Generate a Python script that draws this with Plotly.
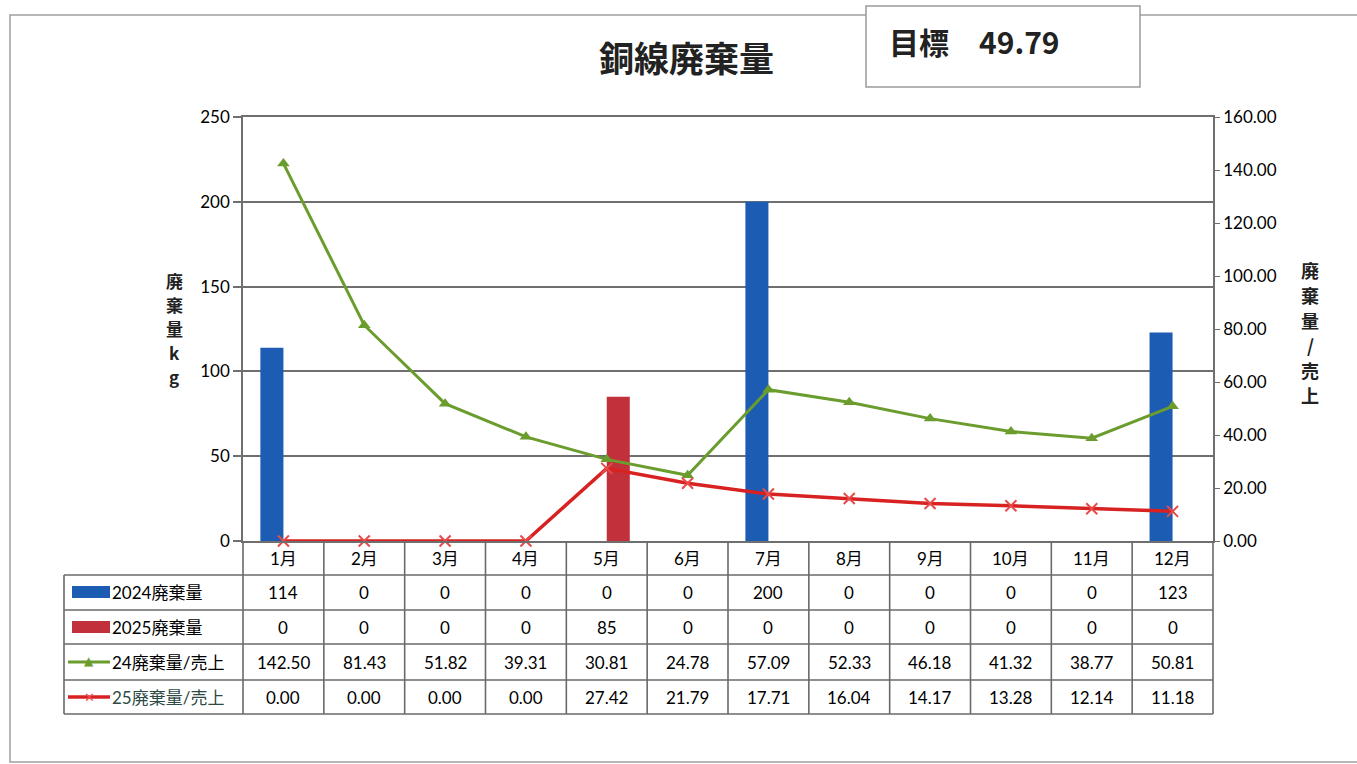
import plotly.graph_objects as go

months = ["1月", "2月", "3月", "4月", "5月", "6月", "7月", "8月", "9月", "10月", "11月", "12月"]
waste_2024 = [114, 0, 0, 0, 0, 0, 200, 0, 0, 0, 0, 123]
waste_2025 = [0, 0, 0, 0, 85, 0, 0, 0, 0, 0, 0, 0]
ratio_24 = [142.50, 81.43, 51.82, 39.31, 30.81, 24.78, 57.09, 52.33, 46.18, 41.32, 38.77, 50.81]
ratio_25 = [0.00, 0.00, 0.00, 0.00, 27.42, 21.79, 17.71, 16.04, 14.17, 13.28, 12.14, 11.18]
row_labels = ["2024廃棄量", "2025廃棄量", "24廃棄量/売上", "25廃棄量/売上"]
title_text = "銅線廃棄量"
target_text = "目標　49.79"
left_title_chars = ["廃", "棄", "量", "k", "g"]
right_title_chars = ["廃", "棄", "量", "/", "売", "上"]

W, H = 1357, 764
L, R, T, B = 243, 1213, 117, 541

def X(px):
    return (px - L) / (R - L)

def Y(py):
    return (B - py) / (B - T)

BLUE = "#1c5db3"
RED_BAR = "#c2313b"
GREEN = "#6b9c2e"
RED = "#d82222"
GRID = "#6f6f6f"
TABLE = "#6a6a6a"
FONT = "Lato, Noto Sans CJK JP, sans-serif"
CJK = "Noto Sans CJK JP, sans-serif"

x = list(range(len(months)))

fig = go.Figure()
fig.add_trace(go.Bar(x=x, y=waste_2024, marker=dict(color=BLUE, line=dict(width=0)), name=row_labels[0]))
fig.add_trace(go.Bar(x=x, y=waste_2025, marker=dict(color=RED_BAR, line=dict(width=0)), name=row_labels[1]))
fig.add_trace(go.Scatter(x=x, y=ratio_24, yaxis="y2", mode="lines+markers", cliponaxis=False,
                         line=dict(color=GREEN, width=3),
                         marker=dict(symbol="triangle-up", size=11, color=GREEN),
                         name=row_labels[2]))
fig.add_trace(go.Scatter(x=x, y=ratio_25, yaxis="y2", mode="lines+markers", cliponaxis=False,
                         line=dict(color=RED, width=3.5),
                         marker=dict(symbol="x-thin", size=11, color="#e84a4a",
                                     line=dict(color="#e84a4a", width=2)),
                         name=row_labels[3]))

shapes = []
annotations = []

def ann(xv, yv, text, size, color="#111", family=FONT, xref="paper", xanchor="center"):
    annotations.append(dict(x=xv, y=yv, xref=xref, yref="paper", text=text, showarrow=False,
                            xanchor=xanchor, yanchor="middle",
                            font=dict(family=family, size=size, color=color)))

# outer frame
shapes.append(dict(type="rect", xref="paper", yref="paper", x0=X(10), x1=X(1365), y0=Y(762), y1=Y(15),
                   line=dict(color="#a0a0a0", width=1.5), fillcolor="rgba(0,0,0,0)", layer="below"))
# target box
shapes.append(dict(type="rect", xref="paper", yref="paper", x0=X(866), x1=X(1140), y0=Y(87), y1=Y(6),
                   line=dict(color="#9a9a9a", width=1.5), fillcolor="white"))

# table grid
row_lines = [575, 610, 644, 680, 714]
for py in row_lines:
    shapes.append(dict(type="line", xref="paper", yref="paper", x0=X(64), x1=1, y0=Y(py), y1=Y(py),
                       line=dict(color=TABLE, width=1.6)))
shapes.append(dict(type="line", xref="paper", yref="paper", x0=X(64), x1=X(64), y0=Y(714), y1=Y(575),
                   line=dict(color=TABLE, width=1.6)))
shapes.append(dict(type="line", xref="paper", yref="paper", x0=0, x1=0, y0=Y(714), y1=0,
                   line=dict(color=TABLE, width=1.6)))
shapes.append(dict(type="line", xref="paper", yref="paper", x0=1, x1=1, y0=Y(714), y1=0,
                   line=dict(color=TABLE, width=1.6)))
for i in range(1, len(months)):
    shapes.append(dict(type="line", xref="x", yref="paper", x0=i - 0.5, x1=i - 0.5, y0=Y(714), y1=0,
                       line=dict(color=TABLE, width=1.6)))

row_centers = [558, 592, 627, 662, 697]
for i, m in enumerate(months):
    ann(i, Y(row_centers[0]), m, 17, color="#000", xref="x")
rows = [
    [str(v) for v in waste_2024],
    [str(v) for v in waste_2025],
    [f"{v:.2f}" for v in ratio_24],
    [f"{v:.2f}" for v in ratio_25],
]
for r, vals in enumerate(rows):
    for i, v in enumerate(vals):
        ann(i, Y(row_centers[r + 1]), v, 17, color="#000", xref="x")

label_colors = ["#000", "#000", "#000", "#2d4a44"]
for r, lab in enumerate(row_labels):
    ann(X(110), Y(row_centers[r + 1]), lab, 17, color=label_colors[r], xanchor="left")
# bar keys
shapes.append(dict(type="rect", xref="paper", yref="paper", x0=X(72), x1=X(110),
                   y0=Y(row_centers[1] + 6), y1=Y(row_centers[1] - 6), line=dict(width=0), fillcolor=BLUE))
shapes.append(dict(type="rect", xref="paper", yref="paper", x0=X(72), x1=X(110),
                   y0=Y(row_centers[2] + 6), y1=Y(row_centers[2] - 6), line=dict(width=0), fillcolor=RED_BAR))
# line keys
shapes.append(dict(type="line", xref="paper", yref="paper", x0=X(68), x1=X(110),
                   y0=Y(row_centers[3]), y1=Y(row_centers[3]), line=dict(color=GREEN, width=3)))
shapes.append(dict(type="line", xref="paper", yref="paper", x0=X(68), x1=X(110),
                   y0=Y(row_centers[4]), y1=Y(row_centers[4]), line=dict(color=RED, width=3.5)))
ann(X(89), Y(row_centers[3] - 1), "▲", 12, color=GREEN, family="DejaVu Sans")
ann(X(89), Y(row_centers[4]), "✕", 13, color="#e84a4a", family="DejaVu Sans")

# title and target
ann(X(686), Y(57), "<b>" + title_text + "</b>", 35, color="#222", family=CJK)
ann(X(887), Y(41), "<b>" + target_text + "</b>", 30, color="#222", family=CJK, xanchor="left")

# axis titles (stacked vertical characters)
for k, ch in enumerate(left_title_chars):
    ann(X(174), Y(280 + 24 * k), "<b>" + ch + "</b>", 17, color="#222", family=CJK)
for k, ch in enumerate(right_title_chars):
    ann(X(1310), Y(270 + 25 * k), "<b>" + ch + "</b>", 18, color="#222", family=CJK)

fig.update_layout(
    width=W, height=H,
    margin=dict(l=L, r=W - R, t=T, b=H - B),
    paper_bgcolor="white", plot_bgcolor="white",
    showlegend=False,
    barmode="group", bargap=0.43, bargroupgap=0,
    font=dict(family=FONT, size=17, color="#000"),
    xaxis=dict(range=[-0.5, 11.5], showticklabels=False, ticks="", showgrid=False, zeroline=False,
               showline=True, mirror=True, linecolor=GRID, linewidth=1.8, fixedrange=True),
    yaxis=dict(range=[0, 250], dtick=50, showgrid=True, gridcolor=GRID, gridwidth=1.6, zeroline=False,
               showline=True, linecolor=GRID, linewidth=1.6, ticks="outside", ticklen=8, tickcolor=GRID,
               tickwidth=1.6, tickfont=dict(family=FONT, size=17, color="#000")),
    yaxis2=dict(range=[0, 160], dtick=20, overlaying="y", side="right", showgrid=False, zeroline=False,
                showline=True, linecolor=GRID, linewidth=1.6, ticks="outside", ticklen=5, tickcolor=GRID,
                tickformat=".2f", tickfont=dict(family=FONT, size=17, color="#000")),
    shapes=shapes,
    annotations=annotations,
)

fig.write_html("out.html")
